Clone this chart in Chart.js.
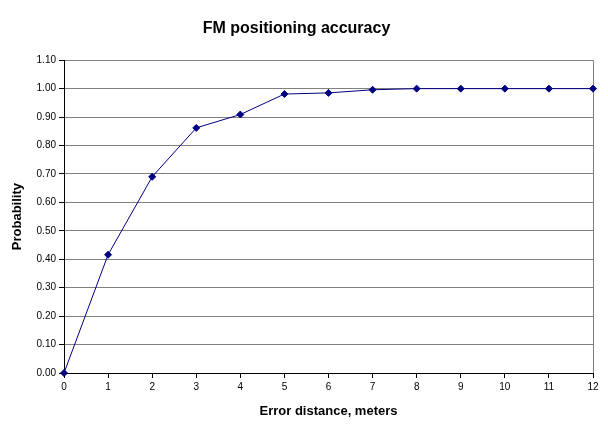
<!DOCTYPE html>
<html><head><meta charset="utf-8">
<script src="https://cdn.jsdelivr.net/npm/chart.js@4"></script>
<style>html,body{margin:0;padding:0;background:#fff}#wrap{width:608px;height:435px}</style>
</head><body><div id="wrap"><canvas id="c" width="608" height="435"></canvas></div>
<script>
const distances = [0,1,2,3,4,5,6,7,8,9,10,11,12];
const probability = [0.00,0.416,0.690,0.862,0.909,0.981,0.985,0.996,1.00,1.00,1.00,1.00,1.00];
const chartTitle = 'FM positioning accuracy';
const xTitle = 'Error distance, meters';
const yTitle = 'Probability';

const FONT = "Arial, 'Liberation Sans', sans-serif";
new Chart(document.getElementById('c'), {
  type: 'line',
  data: {
    datasets: [{
      data: distances.map((d,i)=>({x:d,y:probability[i]})),
      borderColor: '#000080',
      backgroundColor: '#000080',
      borderWidth: 1,
      pointStyle: 'rectRot',
      pointRadius: 3.5,
      pointHoverRadius: 3.5,
      tension: 0,
      clip: false
    }]
  },
  options: {
    responsive: false,
    devicePixelRatio: 1,
    animation: false,
    layout: { padding: { top: 0, right: 15, bottom: 0, left: 0 } },
    plugins: {
      legend: { display: false },
      tooltip: { enabled: false },
      title: {
        display: true, text: chartTitle, color: '#000',
        font: { family: FONT, size: 16, weight: 'bold', lineHeight: 1.2 },
        padding: { top: 19, bottom: 22 }
      }
    },
    scales: {
      x: {
        type: 'linear', min: 0, max: 12,
        afterFit: s => { s.height = 62; },
        ticks: { stepSize: 1, color: '#000', padding: 3, maxRotation: 0,
          font: { family: FONT, size: 10 } },
        grid: {
          drawOnChartArea: true, drawTicks: true, tickLength: 5,
          tickColor: '#000', lineWidth: 1,
          color: ctx => (ctx.tick && ctx.tick.value === 12) ? '#808080' : 'rgba(0,0,0,0)'
        },
        border: { color: '#000', width: 1 },
        title: { display: true, text: xTitle, color: '#000',
          font: { family: FONT, size: 13, weight: 'bold', lineHeight: 1.2 },
          padding: { top: 16, bottom: 16 } }
      },
      y: {
        min: 0, max: 1.1,
        afterFit: s => { s.width = 64; },
        ticks: { stepSize: 0.1, color: '#000', padding: 3,
          font: { family: FONT, size: 10 },
          callback: v => Number(v).toFixed(2) },
        grid: { color: '#808080', lineWidth: 1, drawTicks: true, tickLength: 5, tickColor: '#000' },
        border: { color: '#000', width: 1 },
        title: { display: true, text: yTitle, color: '#000',
          font: { family: FONT, size: 13, weight: 'bold', lineHeight: 1.2 },
          padding: { top: 10, bottom: 10 } }
      }
    }
  }
});
</script></body></html>
